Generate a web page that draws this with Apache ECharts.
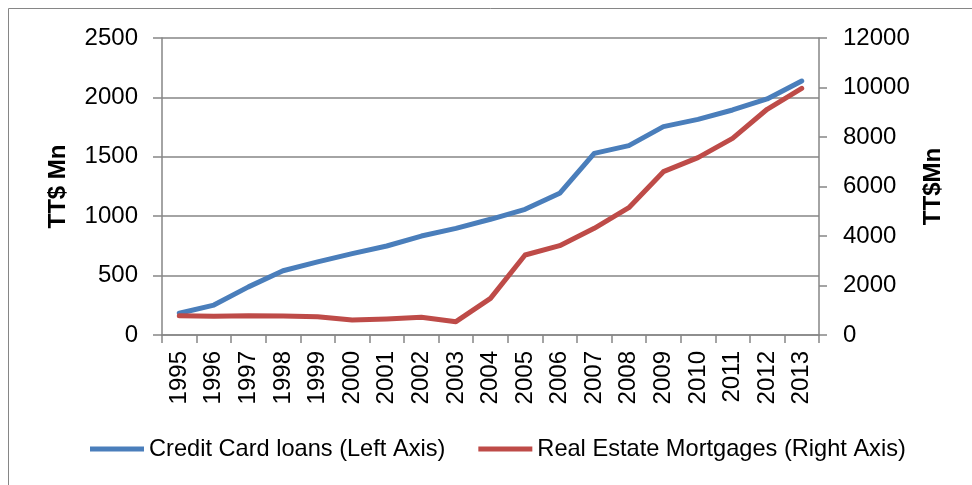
<!DOCTYPE html>
<html>
<head>
<meta charset="utf-8">
<script src="https://cdn.jsdelivr.net/npm/echarts@6/dist/echarts.min.js"></script>
<style>
  html, body { margin: 0; padding: 0; background: #fff; }
  #chart { width: 972px; height: 485px; }
</style>
</head>
<body>
<div id="chart"></div>
<script>
const years = ['1995', '1996', '1997', '1998', '1999', '2000', '2001', '2002', '2003', '2004',
  '2005', '2006', '2007', '2008', '2009', '2010', '2011', '2012', '2013'];
const creditCardLoans = [183, 252, 405, 541, 615, 685, 749, 833, 898, 974,
  1058, 1193, 1529, 1594, 1754, 1815, 1894, 1987, 2138];
const realEstateMortgages = [780, 755, 780, 770, 740, 606, 646, 714, 538, 1482,
  3232, 3608, 4310, 5145, 6600, 7165, 7945, 9120, 9967];

const fontFamily = '"Liberation Sans", Arial, sans-serif';
const axisGray = '#868686';
const textColor = '#000';
const fontSize = 24;

const chart = echarts.init(document.getElementById('chart'));

chart.setOption({
  animation: false,
  textStyle: { fontFamily: fontFamily },
  graphic: [
    {
      type: 'rect',
      shape: { x: 8.5, y: 8.5, width: 1000, height: 1000 },
      style: { fill: 'none', stroke: axisGray, lineWidth: 1 },
    },
  ],
  grid: { left: 162, right: 153, top: 38, bottom: 150 },
  legend: {
    left: 85,
    top: 432,
    icon: 'rect',
    itemWidth: 54,
    itemHeight: 5,
    itemGap: 33,
    textStyle: { color: textColor, fontSize: 23.6, fontFamily: fontFamily },
    data: ['Credit Card loans (Left Axis)', 'Real Estate Mortgages (Right Axis)'],
  },
  xAxis: {
    type: 'category',
    data: years,
    boundaryGap: true,
    axisLine: { lineStyle: { color: axisGray, width: 1.5 } },
    axisTick: { show: true, interval: 0, length: 8, lineStyle: { color: axisGray, width: 1.5 } },
    axisLabel: { interval: 0, rotate: 90, margin: 16, color: textColor, fontSize: fontSize },
  },
  yAxis: [
    {
      type: 'value',
      min: 0,
      max: 2500,
      interval: 500,
      name: 'TT$ Mn',
      nameLocation: 'middle',
      nameRotate: 90,
      nameGap: 92,
      nameTextStyle: { color: textColor, fontSize: fontSize, fontWeight: 'bold' },
      axisLine: { show: true, lineStyle: { color: axisGray, width: 1.5 } },
      axisTick: { show: true, length: 9, lineStyle: { color: axisGray, width: 1.5 } },
      axisLabel: { margin: 24, color: textColor, fontSize: fontSize, formatter: (v) => String(v) },
      splitLine: { show: true, lineStyle: { color: axisGray, width: 1.5 } },
    },
    {
      type: 'value',
      min: 0,
      max: 12000,
      interval: 2000,
      position: 'right',
      name: 'TT$Mn',
      nameLocation: 'middle',
      nameRotate: 90,
      nameGap: 102,
      nameTextStyle: { color: textColor, fontSize: fontSize, fontWeight: 'bold' },
      axisLine: { show: true, lineStyle: { color: axisGray, width: 1.5 } },
      axisTick: { show: true, length: 8, lineStyle: { color: axisGray, width: 1.5 } },
      axisLabel: { margin: 24, color: textColor, fontSize: fontSize, formatter: (v) => String(v) },
      splitLine: { show: false },
    },
  ],
  series: [
    {
      name: 'Credit Card loans (Left Axis)',
      type: 'line',
      yAxisIndex: 0,
      data: creditCardLoans,
      symbol: 'none',
      lineStyle: { color: '#4a7ebb', width: 5, cap: 'round', join: 'round' },
      itemStyle: { color: '#4a7ebb' },
    },
    {
      name: 'Real Estate Mortgages (Right Axis)',
      type: 'line',
      yAxisIndex: 1,
      data: realEstateMortgages,
      symbol: 'none',
      lineStyle: { color: '#be4b48', width: 5, cap: 'round', join: 'round' },
      itemStyle: { color: '#be4b48' },
    },
  ],
});
</script>
</body>
</html>
